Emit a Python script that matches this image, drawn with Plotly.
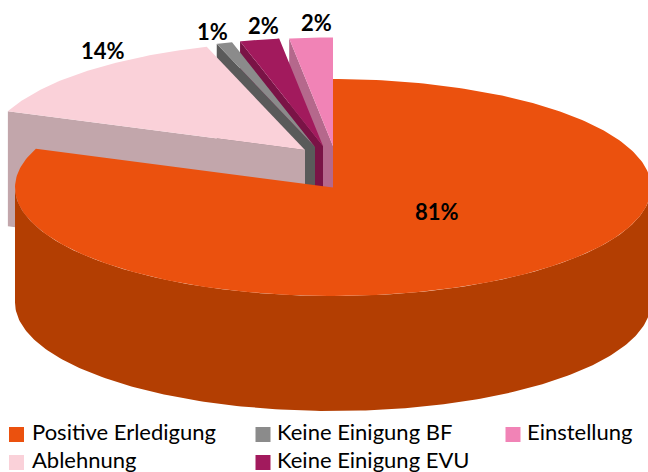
import numpy as np
import plotly.graph_objects as go

categories = ["Positive Erledigung", "Ablehnung", "Keine Einigung BF", "Keine Einigung EVU", "Einstellung"]
values = [80.8, 14.2, 0.8, 2.0, 2.2]
top_colors = ["#EB510E", "#FAD1D9", "#8B8B8B", "#A21A5D", "#F183B6"]
wall_colors = ["#B33E02", "#C2A6AB", "#5A5A5A", "#7A1346", "#B5688C"]

# projection of the pie onto the page
CX, CY, RX, RY, DEPTH = 333, 187.5, 318, 108.5, 115
explode = [(0, 0), (-28, -37.5), (-18, -40.5), (-10, -41.5), (0, -41.5)]
label_pos = [(437, 211), (103, 50), (212, 31), (263, 25), (316, 22)]
legend_pos = [(16.5, 434.5), (16.5, 462.5), (263, 434.5), (263, 462.5), (513, 434.5)]
legend_text_x = [32, 32, 277, 277, 527]
legend_text_y = [434.5, 462, 434.5, 462, 434.5]


def pt(theta, dx=0, dy=0, down=0):
    t = np.radians(theta)
    return CX + dx + RX * np.sin(t), CY + dy - RY * np.cos(t) + down


def poly(fig, xs, ys, color):
    fig.add_trace(go.Scatter(x=list(xs), y=list(ys), mode="lines", fill="toself", fillcolor=color,
                             line=dict(width=0, color=color), hoverinfo="skip", showlegend=False))


fig = go.Figure()
edges = np.concatenate([[0], np.cumsum(values)]) * 3.6


def draw_exploded(i):
    a, b = edges[i], edges[i + 1]
    dx, dy = explode[i]
    vx, vy = CX + dx, CY + dy
    ox, oy = pt(a, dx, dy)
    poly(fig, [vx, ox, ox, vx], [vy, oy, oy + DEPTH, vy + DEPTH], wall_colors[i])
    ax, ay = pt(np.linspace(a, b, 60), dx, dy)
    poly(fig, [vx, *ax], [vy, *ay], top_colors[i])


for i in [4, 3, 2, 1]:
    draw_exploded(i)

# main slice: front wall then top
th = np.linspace(90, 270, 200)
wx, wy = pt(th)
poly(fig, [*wx, *wx[::-1]], [*wy, *(wy[::-1] + DEPTH)], wall_colors[0])
ax, ay = pt(np.linspace(edges[0], edges[1], 300))
poly(fig, [CX, *ax], [CY, *ay], top_colors[0])

# legend entries placed as markers and text in the plot area
for name, color, (lx, ly), tx, ty in zip(categories, top_colors, legend_pos, legend_text_x, legend_text_y):
    fig.add_trace(go.Scatter(x=[lx], y=[ly], mode="markers", cliponaxis=False,
                             marker=dict(symbol="square", size=15, color=color),
                             hoverinfo="skip", showlegend=False))
    fig.add_trace(go.Scatter(x=[tx], y=[ty], mode="text", text=[name], textposition="middle right",
                             cliponaxis=False, textfont=dict(family="Lato", size=22, color="#000000"),
                             hoverinfo="skip", showlegend=False))

for v, (lx, ly) in zip(values, label_pos):
    fig.add_annotation(x=lx, y=ly, text=f"<b>{round(v)}%</b>", showarrow=False,
                       font=dict(family="Lato", size=22, color="#000000"))

fig.update_xaxes(range=[0, 648], visible=False, fixedrange=True)
fig.update_yaxes(range=[472, 0], visible=False, fixedrange=True)
fig.update_layout(
    width=648, height=472, margin=dict(l=0, r=0, t=0, b=0), paper_bgcolor="white", plot_bgcolor="white",
    hovermode=False, showlegend=False, font=dict(family="Lato", size=22, color="#000000"),
)
fig.write_html("out.html", config={"displayModeBar": False},
               post_script="document.body.style.margin='0';document.documentElement.style.overflow='hidden';")
